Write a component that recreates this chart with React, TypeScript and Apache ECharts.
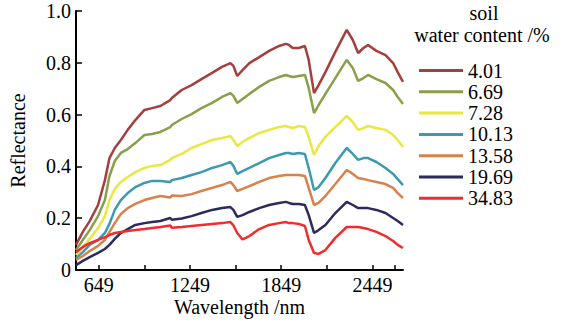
import React, { useEffect, useRef } from "react";
import * as echarts from "echarts";

const wavelengths = [500, 545, 590, 645, 690, 720, 755, 795, 840, 890, 950, 1000, 1055, 1120, 1130, 1195, 1260, 1325, 1395, 1460, 1515, 1535, 1560, 1595, 1640, 1705, 1770, 1835, 1880, 1900, 1925, 1965, 2005, 2030, 2065, 2095, 2140, 2205, 2280, 2320, 2355, 2390, 2420, 2475, 2535, 2585, 2615, 2650];

const legendNames = ["4.01", "6.69", "7.28", "10.13", "13.58", "19.69", "34.83"];
const colors = ["#A3403F", "#88A04A", "#E8E840", "#3C9AB0", "#D9814A", "#2B2B5E", "#F22C2C"];

const s401 = [0.097, 0.147, 0.189, 0.251, 0.347, 0.432, 0.471, 0.502, 0.541, 0.579, 0.618, 0.625, 0.633, 0.656, 0.664, 0.695, 0.714, 0.737, 0.761, 0.784, 0.799, 0.788, 0.749, 0.772, 0.799, 0.822, 0.846, 0.865, 0.873, 0.869, 0.857, 0.857, 0.865, 0.811, 0.683, 0.714, 0.764, 0.842, 0.927, 0.888, 0.838, 0.857, 0.869, 0.846, 0.830, 0.799, 0.764, 0.726];
const s669 = [0.077, 0.116, 0.154, 0.208, 0.270, 0.363, 0.421, 0.452, 0.467, 0.490, 0.521, 0.525, 0.533, 0.552, 0.560, 0.583, 0.602, 0.625, 0.645, 0.668, 0.683, 0.672, 0.645, 0.660, 0.680, 0.707, 0.730, 0.745, 0.753, 0.749, 0.745, 0.749, 0.753, 0.703, 0.606, 0.637, 0.680, 0.741, 0.811, 0.780, 0.730, 0.741, 0.753, 0.737, 0.722, 0.695, 0.668, 0.641];
const s728 = [0.058, 0.089, 0.120, 0.162, 0.208, 0.270, 0.313, 0.340, 0.359, 0.378, 0.394, 0.402, 0.405, 0.425, 0.432, 0.448, 0.471, 0.486, 0.502, 0.510, 0.517, 0.502, 0.479, 0.494, 0.510, 0.529, 0.541, 0.552, 0.556, 0.552, 0.548, 0.556, 0.552, 0.514, 0.444, 0.479, 0.514, 0.552, 0.595, 0.571, 0.541, 0.548, 0.556, 0.548, 0.541, 0.521, 0.502, 0.475];
const s1013 = [0.046, 0.069, 0.097, 0.116, 0.143, 0.178, 0.232, 0.270, 0.297, 0.320, 0.336, 0.344, 0.344, 0.340, 0.347, 0.355, 0.367, 0.378, 0.394, 0.405, 0.417, 0.402, 0.371, 0.382, 0.394, 0.413, 0.432, 0.444, 0.452, 0.452, 0.448, 0.452, 0.448, 0.394, 0.309, 0.320, 0.355, 0.413, 0.471, 0.448, 0.425, 0.432, 0.432, 0.417, 0.394, 0.371, 0.351, 0.328];
const s1358 = [0.039, 0.054, 0.073, 0.093, 0.116, 0.147, 0.181, 0.216, 0.239, 0.255, 0.270, 0.278, 0.286, 0.280, 0.288, 0.286, 0.293, 0.305, 0.317, 0.328, 0.340, 0.328, 0.305, 0.313, 0.324, 0.340, 0.355, 0.363, 0.367, 0.367, 0.367, 0.367, 0.363, 0.317, 0.251, 0.259, 0.286, 0.332, 0.386, 0.371, 0.355, 0.351, 0.347, 0.340, 0.332, 0.317, 0.297, 0.278];
const s1969 = [0.019, 0.035, 0.050, 0.066, 0.081, 0.097, 0.120, 0.143, 0.158, 0.174, 0.181, 0.185, 0.189, 0.201, 0.194, 0.199, 0.208, 0.220, 0.232, 0.239, 0.243, 0.232, 0.205, 0.212, 0.224, 0.239, 0.251, 0.259, 0.263, 0.259, 0.255, 0.255, 0.251, 0.212, 0.143, 0.154, 0.174, 0.220, 0.263, 0.251, 0.239, 0.239, 0.239, 0.232, 0.220, 0.201, 0.189, 0.174];
const s3483 = [0.069, 0.089, 0.104, 0.116, 0.127, 0.135, 0.143, 0.147, 0.151, 0.154, 0.158, 0.162, 0.166, 0.172, 0.163, 0.166, 0.170, 0.174, 0.178, 0.181, 0.185, 0.172, 0.143, 0.118, 0.131, 0.158, 0.174, 0.181, 0.185, 0.181, 0.181, 0.178, 0.170, 0.116, 0.066, 0.062, 0.077, 0.124, 0.166, 0.166, 0.166, 0.162, 0.158, 0.147, 0.131, 0.112, 0.097, 0.085];

const seriesValues = [s401, s669, s728, s1013, s1358, s1969, s3483];

const xTickValues = [649, 949, 1249, 1549, 1849, 2149, 2449, 2599];
const xLabelValues = [649, 1249, 1849, 2449];

const FONT = "Liberation Serif";

export default function App() {
  const ref = useRef<HTMLDivElement>(null);
  useEffect(() => {
    if (!ref.current) return;
    const chart = echarts.init(ref.current, undefined, { renderer: "svg" });
    const series = seriesValues.map((vals, i) => ({
      name: legendNames[i],
      type: "line",
      data: wavelengths.map((w, j) => [w, vals[j]]),
      symbol: "none",
      smooth: false,
      lineStyle: { color: colors[i], width: 2.5 },
      itemStyle: { color: colors[i] },
    }));
    chart.setOption({
      animation: false,
      grid: { left: 73, right: 159, top: 11, bottom: 55 },
      xAxis: {
        type: "value",
        min: 500,
        max: 2650,
        name: "Wavelength /nm",
        nameLocation: "middle",
        nameGap: 27,
        nameMoveOverlap: false,
        nameTextStyle: { fontFamily: FONT, fontSize: 20, color: "#000" },
        axisLine: { lineStyle: { color: "#000", width: 2 } },
        axisTick: { inside: true, length: 5, customValues: xTickValues, lineStyle: { color: "#000", width: 1.5 } },
        axisLabel: {
          customValues: xLabelValues,
          fontFamily: FONT,
          fontSize: 20,
          color: "#000",
          margin: 5,
          formatter: (v: number) => String(v),
        },
        splitLine: { show: false },
      },
      yAxis: {
        type: "value",
        min: 0,
        max: 1,
        interval: 0.2,
        name: "Reflectance",
        nameLocation: "middle",
        nameGap: 48,
        nameMoveOverlap: false,
        nameTextStyle: { fontFamily: FONT, fontSize: 20, color: "#000" },
        axisLine: { show: true, lineStyle: { color: "#000", width: 2 } },
        axisTick: { show: true, inside: true, length: 6, lineStyle: { color: "#000", width: 1.5 } },
        axisLabel: {
          fontFamily: FONT,
          fontSize: 20,
          color: "#000",
          margin: 5,
          formatter: (v: number) => (v === 0 ? "0" : v.toFixed(1)),
        },
        splitLine: { show: false },
      },
      legend: {
        orient: "vertical",
        left: 419,
        top: 60,
        icon: "rect",
        itemWidth: 44,
        itemHeight: 3,
        itemGap: 0.3,
        padding: 0,
        data: legendNames,
        textStyle: { fontFamily: FONT, fontSize: 20, color: "#000", lineHeight: 21 },
      },
      graphic: [
        { type: "text", x: 484, y: 13, style: { text: "soil", font: `20px "${FONT}"`, fill: "#000", textAlign: "center", textVerticalAlign: "middle" } },
        { type: "text", x: 482, y: 35, style: { text: "water content /%", font: `20px "${FONT}"`, fill: "#000", textAlign: "center", textVerticalAlign: "middle" } },
      ],
      series,
    });
    return () => chart.dispose();
  }, []);
  return <div ref={ref} style={{ position: "absolute", left: 0, top: 0, width: 562, height: 325 }} />;
}
